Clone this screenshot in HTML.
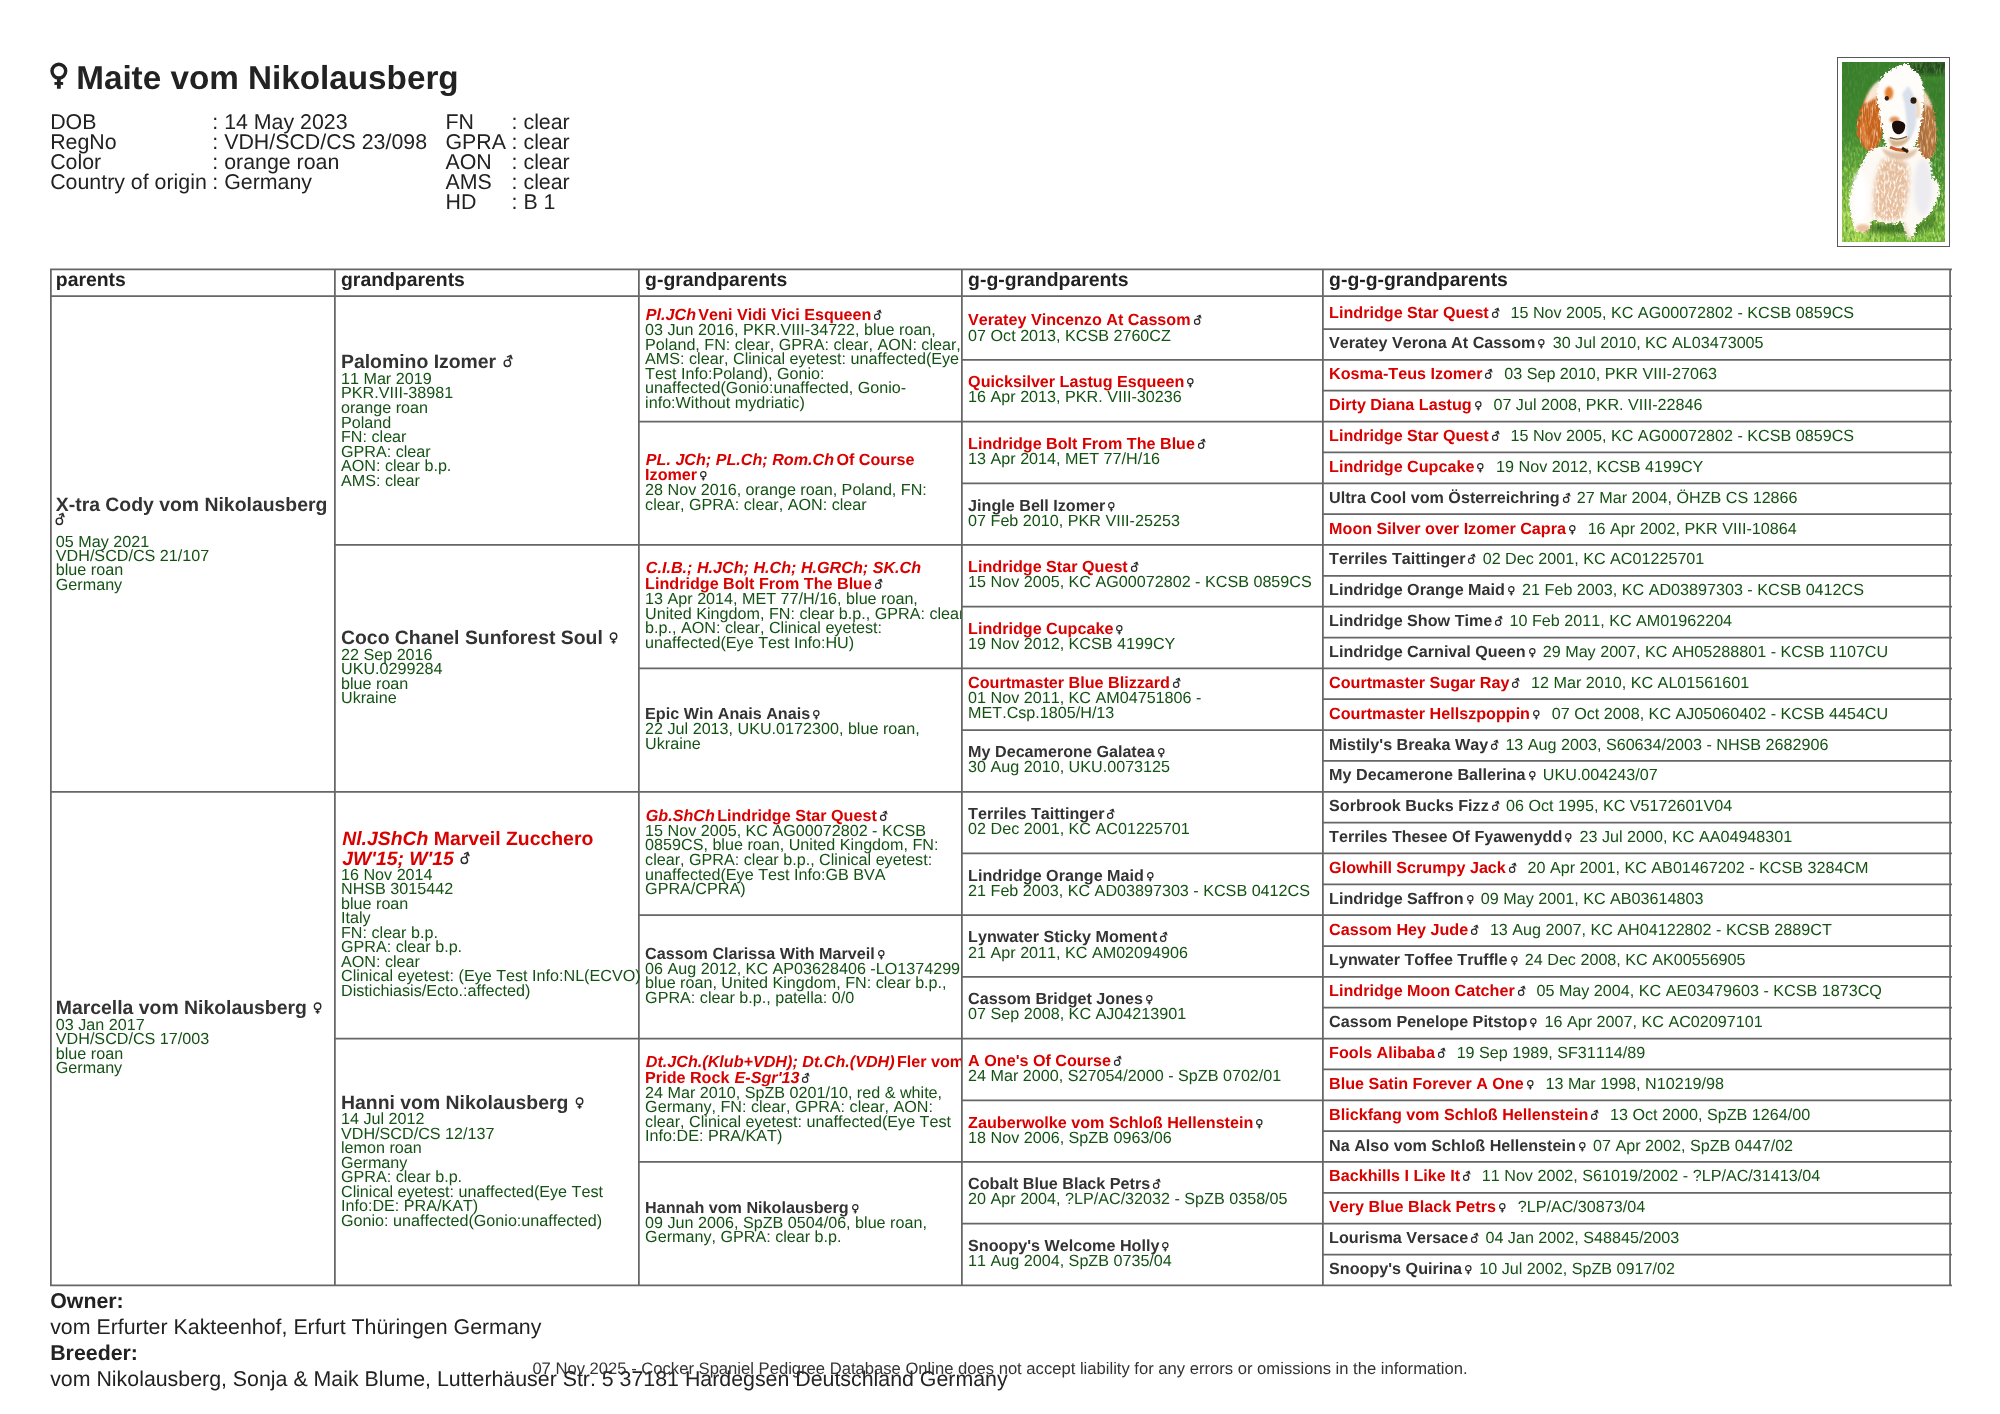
<!DOCTYPE html><html><head><meta charset="utf-8"><title>Pedigree</title><style>
html,body{margin:0;padding:0}
body{width:2000px;height:1414px;position:relative;background:#fff;overflow:hidden;font-family:"Liberation Sans",sans-serif;color:#222;font-kerning:none;text-rendering:geometricPrecision}
.l{position:absolute;line-height:0;white-space:nowrap;height:0}
.l b{font-weight:bold}
.l i{font-style:italic}
.h{position:absolute;height:1.75px;background:#6b6b6b}
.v{position:absolute;width:1.75px;background:#6b6b6b}
.s{display:inline-block;position:relative;width:0.79em;height:0;vertical-align:baseline}
.s svg{position:absolute;left:0;bottom:-0.2em;width:0.79em;height:0.9em;overflow:visible}
.ph{position:absolute;left:1837px;top:56.5px;width:110.9px;height:188.2px;border:1.2px solid #585858;box-sizing:content-box}
.ph svg{position:absolute;left:3.9px;top:4.4px;width:103px;height:180.2px}
#w{position:absolute;left:0;top:0;width:2000px;height:1414px;will-change:transform;background:#fff}

</style></head><body><div id="w">
<svg style="position:absolute;left:48px;top:60px;width:24px;height:32px" viewBox="0 0 24 32"><g fill="none" stroke="#222"><circle cx="10.85" cy="11.1" r="6.86" stroke-width="3.4"/><path d="M10.85 17.5V28.75" stroke-width="3.8"/><path d="M6.44 23.47H15.13" stroke-width="2.9"/></g></svg>

<div class="ph"><svg viewBox="0 0 103 180" preserveAspectRatio="none"><defs><linearGradient id="gg" x1="0" y1="0" x2="0.25" y2="1"><stop offset="0" stop-color="#357d2a"/><stop offset="0.45" stop-color="#3f8a2b"/><stop offset="0.75" stop-color="#4f9a2c"/><stop offset="1" stop-color="#74b932"/></linearGradient><radialGradient id="gl" cx="0.15" cy="0.9" r="0.5"><stop offset="0" stop-color="#b9e24e" stop-opacity="0.95"/><stop offset="1" stop-color="#8fd23a" stop-opacity="0"/></radialGradient><linearGradient id="mg" x1="0" y1="0" x2="0" y2="1"><stop offset="0.3" stop-color="#000"/><stop offset="0.75" stop-color="#fff"/></linearGradient><mask id="mk"><rect width="103" height="180" fill="url(#mg)"/></mask><filter id="nd" x="0" y="0" width="100%" height="100%"><feTurbulence type="fractalNoise" baseFrequency="0.5 0.16" numOctaves="3" seed="4"/><feColorMatrix values="0 0 0 0 0.08  0 0 0 0 0.25  0 0 0 0 0.05  2.6 0 0 0 -1.1"/></filter><filter id="nl" x="0" y="0" width="100%" height="100%"><feTurbulence type="fractalNoise" baseFrequency="0.55 0.2" numOctaves="3" seed="11"/><feColorMatrix values="0 0 0 0 0.66  0 0 0 0 0.88  0 0 0 0 0.3  2.6 0 0 0 -1.15"/></filter><filter id="soft" x="0" y="0" width="100%" height="100%"><feGaussianBlur stdDeviation="0.4"/></filter><filter id="b05"><feGaussianBlur stdDeviation="0.5"/></filter><filter id="b1"><feGaussianBlur stdDeviation="1"/></filter><filter id="b2"><feGaussianBlur stdDeviation="2"/></filter><filter id="fur" x="-15%" y="-15%" width="130%" height="130%"><feTurbulence type="fractalNoise" baseFrequency="0.35 0.5" numOctaves="2" seed="7" result="t"/><feDisplacementMap in="SourceGraphic" in2="t" scale="7" xChannelSelector="R" yChannelSelector="G"/><feGaussianBlur stdDeviation="0.5"/></filter><filter id="np" x="0" y="0" width="100%" height="100%"><feTurbulence type="fractalNoise" baseFrequency="0.5 0.22" numOctaves="2" seed="9"/><feColorMatrix values="0 0 0 0 1  0 0 0 0 0.98  0 0 0 0 0.94  3.4 0 0 0 -1.5"/><feGaussianBlur stdDeviation="0.35"/></filter><filter id="ne" x="0" y="0" width="100%" height="100%"><feTurbulence type="fractalNoise" baseFrequency="0.6 0.12" numOctaves="2" seed="21"/><feColorMatrix values="0 0 0 0 0.98  0 0 0 0 0.84  0 0 0 0 0.66  3.2 0 0 0 -1.5"/><feGaussianBlur stdDeviation="0.35"/></filter><clipPath id="cp"><rect width="103" height="180"/></clipPath><clipPath id="peach"><path d="M38 95C46 92 62 94 68 100C72 115 70 140 62 158C50 162 36 160 30 156C28 140 30 112 38 95Z"/></clipPath><clipPath id="ears"><path d="M34 26C26 30 20 42 16 56C13 68 16 80 24 88C30 90 36 86 39 78C41 64 40 44 40 30ZM76 26C84 28 90 40 93 54C96 70 95 88 90 96C84 98 78 94 76 84C74 66 74 44 76 26Z"/></clipPath></defs><g clip-path="url(#cp)"><g filter="url(#soft)"><rect width="103" height="180" fill="url(#gg)"/><ellipse cx="88" cy="5" rx="24" ry="8" fill="#23401f" opacity="0.8" filter="url(#b2)"/><rect x="82" y="20" width="21" height="130" fill="#2c6f25" opacity="0.4" filter="url(#b2)"/><rect width="103" height="180" fill="url(#gl)"/><rect width="103" height="180" filter="url(#nd)" opacity="0.9"/><g mask="url(#mk)"><rect width="103" height="180" filter="url(#nl)" opacity="0.85"/></g><ellipse cx="52" cy="166" rx="30" ry="6" fill="#1f4a14" opacity="0.55" filter="url(#b2)"/><ellipse cx="86" cy="158" rx="8" ry="10" fill="#1f4a14" opacity="0.4" filter="url(#b2)"/><!-- body --><g filter="url(#fur)"><path d="M27 88C20 100 12 118 8 134C6 146 10 160 14 168C18 172 26 170 28 164L30 157C40 162 52 162 60 160C62 166 64 174 68 175C72 175 74 170 74 164C80 160 86 154 90 148C96 140 99 128 97 122C94 118 91 116 90 114C89 104 88 94 86 86C70 82 40 82 27 88Z" fill="#fdf9f4"/></g><g filter="url(#b2)"><path d="M40 98C50 94 62 96 66 104C69 120 66 142 60 156C48 160 38 158 32 154C30 138 32 114 40 98Z" fill="#e6bb98" opacity="0.95"/><ellipse cx="81" cy="125" rx="9" ry="28" fill="#e6e6ee" opacity="0.75"/><ellipse cx="18" cy="135" rx="8" ry="26" fill="#ffffff"/></g><g clip-path="url(#peach)"><rect x="25" y="90" width="50" height="75" filter="url(#np)" opacity="0.9"/></g><ellipse cx="21" cy="166" rx="7" ry="4" fill="#e8b48c" opacity="0.8" filter="url(#b1)"/><path d="M62 160C64 168 66 176 70 176" stroke="#e9d2bc" stroke-width="3" fill="none" filter="url(#b1)" opacity="0.7"/><path d="M40 86C50 92 66 92 76 86C74 94 66 98 58 98C50 98 42 94 40 86Z" fill="#d9b595" opacity="0.8" filter="url(#b1)"/><!-- ears --><g filter="url(#fur)"><path d="M36 22C26 28 20 42 16 56C13 68 16 80 24 88C30 90 36 86 39 78C41 64 40 44 40 30Z" fill="#c8641f"/><path d="M76 24C84 28 90 40 93 54C96 70 95 88 90 96C84 98 78 94 76 84C74 66 74 44 76 24Z" fill="#b4733c"/></g><g filter="url(#b1)"><path d="M22 60C20 68 22 78 27 84" stroke="#e58a42" stroke-width="4" fill="none" opacity="0.8"/><path d="M79 50C79 62 80 78 82 90" stroke="#94623a" stroke-width="2.5" fill="none" opacity="0.7"/><path d="M38 18C30 22 25 32 22 42C28 40 34 36 38 30Z" fill="#fbeedd" opacity="0.95"/><path d="M76 24C84 28 88 36 90 46C86 44 80 42 77 40Z" fill="#f3e2c8" opacity="0.9"/></g><g clip-path="url(#ears)"><rect x="10" y="20" width="90" height="80" filter="url(#ne)" opacity="0.6"/></g><!-- head --><g filter="url(#fur)"><path d="M63 0C60 3 50 6 43 12C36 18 33 28 36 42C39 58 41 76 44 84C52 90 66 90 74 82C78 70 81 54 81 40C83 28 81 16 75 10C70 6 67 3 63 0Z" fill="#fffdfa"/></g><g filter="url(#b1)"><path d="M66 24C72 30 76 44 74 62C72 72 68 78 64 80C66 66 64 44 60 32Z" fill="#cdd6e6" opacity="0.75"/><ellipse cx="47" cy="31" rx="4.2" ry="6.5" fill="#e37a28" opacity="0.95"/><ellipse cx="52.5" cy="57.5" rx="5" ry="3" fill="#e08546" opacity="0.9"/><path d="M46 76C52 80 62 79 68 74C66 82 58 86 50 84Z" fill="#c8a070" opacity="0.8"/><path d="M73 36C76 40 77 48 76 56" stroke="#e8caa0" stroke-width="3" fill="none" opacity="0.8"/></g><g filter="url(#b05)"><ellipse cx="44.8" cy="36.3" rx="2.1" ry="2.3" fill="#3a1c14"/><ellipse cx="71.5" cy="38.5" rx="3" ry="3.2" fill="#2a1a12"/><path d="M50 63C50 59 54 58 58 59C62 60 64 62 63 66C62 71 58 73 55 72C52 71 50 67 50 63Z" fill="#1c1010"/><path d="M48 75.5C53 77.5 60 77 65 74.5" stroke="#6a4a30" stroke-width="1.2" fill="none"/><path d="M48 85C54 88 60 89 66 88" stroke="#c8602a" stroke-width="3.2" fill="none"/><path d="M60 86L66 90" stroke="#2a1a10" stroke-width="3" fill="none"/></g></g></g></svg></div>
<div class="l" style="left:76.20px;top:79.00px;font-size:33.25px;"><b>Maite vom Nikolausberg</b></div>
<div class="l" style="left:50.20px;top:122.00px;font-size:21.35px;">DOB</div>
<div class="l" style="left:50.20px;top:142.00px;font-size:21.35px;">RegNo</div>
<div class="l" style="left:50.20px;top:162.00px;font-size:21.35px;">Color</div>
<div class="l" style="left:50.20px;top:182.00px;font-size:21.35px;">Country of origin</div>
<div class="l" style="left:212.30px;top:122.00px;font-size:21.35px;">: 14 May 2023</div>
<div class="l" style="left:212.30px;top:142.00px;font-size:21.35px;">: VDH/SCD/CS 23/098</div>
<div class="l" style="left:212.30px;top:162.00px;font-size:21.35px;">: orange roan</div>
<div class="l" style="left:212.30px;top:182.00px;font-size:21.35px;">: Germany</div>
<div class="l" style="left:445.50px;top:122.00px;font-size:21.35px;">FN</div>
<div class="l" style="left:445.50px;top:142.00px;font-size:21.35px;">GPRA</div>
<div class="l" style="left:445.50px;top:162.00px;font-size:21.35px;">AON</div>
<div class="l" style="left:445.50px;top:182.00px;font-size:21.35px;">AMS</div>
<div class="l" style="left:445.50px;top:202.00px;font-size:21.35px;">HD</div>
<div class="l" style="left:511.60px;top:122.00px;font-size:21.35px;">: clear</div>
<div class="l" style="left:511.60px;top:142.00px;font-size:21.35px;">: clear</div>
<div class="l" style="left:511.60px;top:162.00px;font-size:21.35px;">: clear</div>
<div class="l" style="left:511.60px;top:182.00px;font-size:21.35px;">: clear</div>
<div class="l" style="left:511.60px;top:202.00px;font-size:21.35px;">: B 1</div>
<svg style="position:absolute;left:0;top:0" width="2000" height="1414" viewBox="0 0 2000 1414"><path d="M50.00 269.48H1951.95M50.00 296.20H1951.95M50.88 268.50V1286.22M334.88 268.50V1286.22M638.88 268.50V1286.22M961.88 268.50V1286.22M1322.88 268.50V1286.22M1950.08 268.50V1286.22M1322.00 329.00H1951.95M961.00 359.85H1951.95M1322.00 390.70H1951.95M638.00 421.55H1951.95M1322.00 452.40H1951.95M961.00 483.25H1951.95M1322.00 514.10H1951.95M334.00 544.95H1951.95M1322.00 575.80H1951.95M961.00 606.65H1951.95M1322.00 637.50H1951.95M638.00 668.35H1951.95M1322.00 699.20H1951.95M961.00 730.05H1951.95M1322.00 760.90H1951.95M50.00 791.75H1951.95M1322.00 822.60H1951.95M961.00 853.45H1951.95M1322.00 884.30H1951.95M638.00 915.15H1951.95M1322.00 946.00H1951.95M961.00 976.85H1951.95M1322.00 1007.70H1951.95M334.00 1038.55H1951.95M1322.00 1069.40H1951.95M961.00 1100.25H1951.95M1322.00 1131.10H1951.95M638.00 1161.95H1951.95M1322.00 1192.80H1951.95M961.00 1223.65H1951.95M1322.00 1254.50H1951.95M50.00 1285.35H1951.95" fill="none" stroke="#666" stroke-width="1.75"/></svg>
<div class="l" style="left:55.80px;top:280.00px;font-size:19.40px;"><b style="color:#222">parents</b></div>
<div class="l" style="left:341.00px;top:280.00px;font-size:19.40px;"><b style="color:#222">grandparents</b></div>
<div class="l" style="left:645.10px;top:280.00px;font-size:19.40px;"><b style="color:#222">g-grandparents</b></div>
<div class="l" style="left:968.10px;top:280.00px;font-size:19.40px;"><b style="color:#222">g-g-grandparents</b></div>
<div class="l" style="left:1329.10px;top:280.00px;font-size:19.40px;"><b style="color:#222">g-g-g-grandparents</b></div>
<div class="l" style="left:55.80px;top:505.00px;font-size:19.40px;"><b style="color:#333">X-tra Cody vom Nikolausberg</b></div>
<div class="l" style="left:52.40px;top:520.00px;font-size:19.40px;"><span style="color:#333"><span class="s"><svg viewBox="0 0 79 90"><g fill="none" stroke="#2a2a2a" stroke-width="7.4"><circle cx="38" cy="48" r="16.5"/><path d="M46.5 33L55 11"/><path d="M36 16.5L55.5 7.5L63 27" stroke-width="7"/></g></svg></span></span></div>
<div class="l" style="left:55.80px;top:542.00px;font-size:16.15px;"><span style="color:#145214">05 May 2021</span></div>
<div class="l" style="left:55.80px;top:556.00px;font-size:16.15px;"><span style="color:#145214">VDH/SCD/CS 21/107</span></div>
<div class="l" style="left:55.80px;top:570.00px;font-size:16.15px;"><span style="color:#145214">blue roan</span></div>
<div class="l" style="left:55.80px;top:585.00px;font-size:16.15px;"><span style="color:#145214">Germany</span></div>
<div class="l" style="left:55.80px;top:1008.00px;font-size:19.40px;"><b style="color:#333">Marcella vom Nikolausberg</b><span style="margin-left:3.6px;color:#333"><span class="s"><svg viewBox="0 0 79 90"><g fill="none" stroke="#2a2a2a" stroke-width="7.4"><circle cx="39" cy="32.5" r="16.6"/><path d="M39 49.5V71.5M29 60.5H49"/></g></svg></span></span></div>
<div class="l" style="left:55.80px;top:1025.00px;font-size:16.15px;"><span style="color:#145214">03 Jan 2017</span></div>
<div class="l" style="left:55.80px;top:1039.00px;font-size:16.15px;"><span style="color:#145214">VDH/SCD/CS 17/003</span></div>
<div class="l" style="left:55.80px;top:1054.00px;font-size:16.15px;"><span style="color:#145214">blue roan</span></div>
<div class="l" style="left:55.80px;top:1068.00px;font-size:16.15px;"><span style="color:#145214">Germany</span></div>
<div class="l" style="left:341.00px;top:362.00px;font-size:19.40px;"><b style="color:#333">Palomino Izomer</b><span style="margin-left:3.6px;color:#333"><span class="s"><svg viewBox="0 0 79 90"><g fill="none" stroke="#2a2a2a" stroke-width="7.4"><circle cx="38" cy="48" r="16.5"/><path d="M46.5 33L55 11"/><path d="M36 16.5L55.5 7.5L63 27" stroke-width="7"/></g></svg></span></span></div>
<div class="l" style="left:341.00px;top:379.00px;font-size:16.15px;"><span style="color:#145214">11 Mar 2019</span></div>
<div class="l" style="left:341.00px;top:393.00px;font-size:16.15px;"><span style="color:#145214">PKR.VIII-38981</span></div>
<div class="l" style="left:341.00px;top:408.00px;font-size:16.15px;"><span style="color:#145214">orange roan</span></div>
<div class="l" style="left:341.00px;top:423.00px;font-size:16.15px;"><span style="color:#145214">Poland</span></div>
<div class="l" style="left:341.00px;top:437.00px;font-size:16.15px;"><span style="color:#145214">FN: clear</span></div>
<div class="l" style="left:341.00px;top:452.00px;font-size:16.15px;"><span style="color:#145214">GPRA: clear</span></div>
<div class="l" style="left:341.00px;top:466.00px;font-size:16.15px;"><span style="color:#145214">AON: clear b.p.</span></div>
<div class="l" style="left:341.00px;top:481.00px;font-size:16.15px;"><span style="color:#145214">AMS: clear</span></div>
<div class="l" style="left:341.00px;top:638.00px;font-size:19.40px;"><b style="color:#333">Coco Chanel Sunforest Soul</b><span style="margin-left:3.6px;color:#333"><span class="s"><svg viewBox="0 0 79 90"><g fill="none" stroke="#2a2a2a" stroke-width="7.4"><circle cx="39" cy="32.5" r="16.6"/><path d="M39 49.5V71.5M29 60.5H49"/></g></svg></span></span></div>
<div class="l" style="left:341.00px;top:655.00px;font-size:16.15px;"><span style="color:#145214">22 Sep 2016</span></div>
<div class="l" style="left:341.00px;top:669.00px;font-size:16.15px;"><span style="color:#145214">UKU.0299284</span></div>
<div class="l" style="left:341.00px;top:684.00px;font-size:16.15px;"><span style="color:#145214">blue roan</span></div>
<div class="l" style="left:341.00px;top:698.00px;font-size:16.15px;"><span style="color:#145214">Ukraine</span></div>
<div class="l" style="left:342.20px;top:839.00px;font-size:19.40px;"><b style="color:#d90000"><i>Nl.JShCh</i> Marveil Zucchero</b></div>
<div class="l" style="left:342.20px;top:859.00px;font-size:19.40px;"><b style="color:#d90000"><i>JW'15; W'15</i></b><span style="margin-left:3.6px;color:#333"><span class="s"><svg viewBox="0 0 79 90"><g fill="none" stroke="#2a2a2a" stroke-width="7.4"><circle cx="38" cy="48" r="16.5"/><path d="M46.5 33L55 11"/><path d="M36 16.5L55.5 7.5L63 27" stroke-width="7"/></g></svg></span></span></div>
<div class="l" style="left:341.00px;top:875.00px;font-size:16.15px;"><span style="color:#145214">16 Nov 2014</span></div>
<div class="l" style="left:341.00px;top:889.00px;font-size:16.15px;"><span style="color:#145214">NHSB 3015442</span></div>
<div class="l" style="left:341.00px;top:904.00px;font-size:16.15px;"><span style="color:#145214">blue roan</span></div>
<div class="l" style="left:341.00px;top:918.00px;font-size:16.15px;"><span style="color:#145214">Italy</span></div>
<div class="l" style="left:341.00px;top:933.00px;font-size:16.15px;"><span style="color:#145214">FN: clear b.p.</span></div>
<div class="l" style="left:341.00px;top:947.00px;font-size:16.15px;"><span style="color:#145214">GPRA: clear b.p.</span></div>
<div class="l" style="left:341.00px;top:962.00px;font-size:16.15px;"><span style="color:#145214">AON: clear</span></div>
<div class="l" style="left:341.00px;top:976.00px;font-size:16.15px;"><span style="color:#145214">Clinical eyetest: (Eye Test Info:NL(ECVO)</span></div>
<div class="l" style="left:341.00px;top:991.00px;font-size:16.15px;"><span style="color:#145214">Distichiasis/Ecto.:affected)</span></div>
<div class="l" style="left:341.00px;top:1103.00px;font-size:19.40px;"><b style="color:#333">Hanni vom Nikolausberg</b><span style="margin-left:3.6px;color:#333"><span class="s"><svg viewBox="0 0 79 90"><g fill="none" stroke="#2a2a2a" stroke-width="7.4"><circle cx="39" cy="32.5" r="16.6"/><path d="M39 49.5V71.5M29 60.5H49"/></g></svg></span></span></div>
<div class="l" style="left:341.00px;top:1119.00px;font-size:16.15px;"><span style="color:#145214">14 Jul 2012</span></div>
<div class="l" style="left:341.00px;top:1134.00px;font-size:16.15px;"><span style="color:#145214">VDH/SCD/CS 12/137</span></div>
<div class="l" style="left:341.00px;top:1148.00px;font-size:16.15px;"><span style="color:#145214">lemon roan</span></div>
<div class="l" style="left:341.00px;top:1163.00px;font-size:16.15px;"><span style="color:#145214">Germany</span></div>
<div class="l" style="left:341.00px;top:1177.00px;font-size:16.15px;"><span style="color:#145214">GPRA: clear b.p.</span></div>
<div class="l" style="left:341.00px;top:1192.00px;font-size:16.15px;"><span style="color:#145214">Clinical eyetest: unaffected(Eye Test</span></div>
<div class="l" style="left:341.00px;top:1206.00px;font-size:16.15px;"><span style="color:#145214">Info:DE: PRA/KAT)</span></div>
<div class="l" style="left:341.00px;top:1221.00px;font-size:16.15px;"><span style="color:#145214">Gonio: unaffected(Gonio:unaffected)</span></div>
<div class="l" style="left:645.10px;top:315.00px;font-size:16.15px;width:316.20px;clip-path:inset(-30px 0 -30px 0);"><b style="color:#d90000"><i style="position:relative;left:0.7px">Pl.JCh</i><span style="margin-left:-1.5px"> Veni Vidi Vici Esqueen</span></b><span style="color:#333"><span class="s"><svg viewBox="0 0 79 90"><g fill="none" stroke="#2a2a2a" stroke-width="7.4"><circle cx="38" cy="48" r="16.5"/><path d="M46.5 33L55 11"/><path d="M36 16.5L55.5 7.5L63 27" stroke-width="7"/></g></svg></span></span></div>
<div class="l" style="left:645.10px;top:330.00px;font-size:16.15px;width:316.20px;clip-path:inset(-30px 0 -30px 0);"><span style="color:#145214">03 Jun 2016, PKR.VIII-34722, blue roan,</span></div>
<div class="l" style="left:645.10px;top:345.00px;font-size:16.15px;width:316.20px;clip-path:inset(-30px 0 -30px 0);"><span style="color:#145214">Poland, FN: clear, GPRA: clear, AON: clear,</span></div>
<div class="l" style="left:645.10px;top:359.00px;font-size:16.15px;width:316.20px;clip-path:inset(-30px 0 -30px 0);"><span style="color:#145214">AMS: clear, Clinical eyetest: unaffected(Eye</span></div>
<div class="l" style="left:645.10px;top:374.00px;font-size:16.15px;width:316.20px;clip-path:inset(-30px 0 -30px 0);"><span style="color:#145214">Test Info:Poland), Gonio:</span></div>
<div class="l" style="left:645.10px;top:388.00px;font-size:16.15px;width:316.20px;clip-path:inset(-30px 0 -30px 0);"><span style="color:#145214">unaffected(Gonio:unaffected, Gonio-</span></div>
<div class="l" style="left:645.10px;top:403.00px;font-size:16.15px;width:316.20px;clip-path:inset(-30px 0 -30px 0);"><span style="color:#145214">info:Without mydriatic)</span></div>
<div class="l" style="left:645.10px;top:460.00px;font-size:16.15px;width:316.20px;clip-path:inset(-30px 0 -30px 0);"><b style="color:#d90000"><i style="position:relative;left:0.7px">PL. JCh; PL.Ch; Rom.Ch</i><span style="margin-left:-1.5px"> Of Course</span></b></div>
<div class="l" style="left:645.10px;top:475.00px;font-size:16.15px;width:316.20px;clip-path:inset(-30px 0 -30px 0);"><b style="color:#d90000">Izomer</b><span style="color:#333"><span class="s"><svg viewBox="0 0 79 90"><g fill="none" stroke="#2a2a2a" stroke-width="7.4"><circle cx="39" cy="32.5" r="16.6"/><path d="M39 49.5V71.5M29 60.5H49"/></g></svg></span></span></div>
<div class="l" style="left:645.10px;top:490.00px;font-size:16.15px;width:316.20px;clip-path:inset(-30px 0 -30px 0);"><span style="color:#145214">28 Nov 2016, orange roan, Poland, FN:</span></div>
<div class="l" style="left:645.10px;top:505.00px;font-size:16.15px;width:316.20px;clip-path:inset(-30px 0 -30px 0);"><span style="color:#145214">clear, GPRA: clear, AON: clear</span></div>
<div class="l" style="left:645.10px;top:568.00px;font-size:16.15px;width:316.20px;clip-path:inset(-30px 0 -30px 0);"><b style="color:#d90000"><i style="position:relative;left:0.7px">C.I.B.; H.JCh; H.Ch; H.GRCh; SK.Ch</i></b></div>
<div class="l" style="left:645.10px;top:584.00px;font-size:16.15px;width:316.20px;clip-path:inset(-30px 0 -30px 0);"><b style="color:#d90000">Lindridge Bolt From The Blue</b><span style="color:#333"><span class="s"><svg viewBox="0 0 79 90"><g fill="none" stroke="#2a2a2a" stroke-width="7.4"><circle cx="38" cy="48" r="16.5"/><path d="M46.5 33L55 11"/><path d="M36 16.5L55.5 7.5L63 27" stroke-width="7"/></g></svg></span></span></div>
<div class="l" style="left:645.10px;top:599.00px;font-size:16.15px;width:316.20px;clip-path:inset(-30px 0 -30px 0);"><span style="color:#145214">13 Apr 2014, MET 77/H/16, blue roan,</span></div>
<div class="l" style="left:645.10px;top:614.00px;font-size:16.15px;width:316.20px;clip-path:inset(-30px 0 -30px 0);"><span style="color:#145214">United Kingdom, FN: clear b.p., GPRA: clear</span></div>
<div class="l" style="left:645.10px;top:628.00px;font-size:16.15px;width:316.20px;clip-path:inset(-30px 0 -30px 0);"><span style="color:#145214">b.p., AON: clear, Clinical eyetest:</span></div>
<div class="l" style="left:645.10px;top:643.00px;font-size:16.15px;width:316.20px;clip-path:inset(-30px 0 -30px 0);"><span style="color:#145214">unaffected(Eye Test Info:HU)</span></div>
<div class="l" style="left:645.10px;top:714.00px;font-size:16.15px;width:316.20px;clip-path:inset(-30px 0 -30px 0);"><b style="color:#333">Epic Win Anais Anais</b><span style="color:#333"><span class="s"><svg viewBox="0 0 79 90"><g fill="none" stroke="#2a2a2a" stroke-width="7.4"><circle cx="39" cy="32.5" r="16.6"/><path d="M39 49.5V71.5M29 60.5H49"/></g></svg></span></span></div>
<div class="l" style="left:645.10px;top:729.00px;font-size:16.15px;width:316.20px;clip-path:inset(-30px 0 -30px 0);"><span style="color:#145214">22 Jul 2013, UKU.0172300, blue roan,</span></div>
<div class="l" style="left:645.10px;top:744.00px;font-size:16.15px;width:316.20px;clip-path:inset(-30px 0 -30px 0);"><span style="color:#145214">Ukraine</span></div>
<div class="l" style="left:645.10px;top:816.00px;font-size:16.15px;width:316.20px;clip-path:inset(-30px 0 -30px 0);"><b style="color:#d90000"><i style="position:relative;left:0.7px">Gb.ShCh</i><span style="margin-left:-1.5px"> Lindridge Star Quest</span></b><span style="color:#333"><span class="s"><svg viewBox="0 0 79 90"><g fill="none" stroke="#2a2a2a" stroke-width="7.4"><circle cx="38" cy="48" r="16.5"/><path d="M46.5 33L55 11"/><path d="M36 16.5L55.5 7.5L63 27" stroke-width="7"/></g></svg></span></span></div>
<div class="l" style="left:645.10px;top:831.00px;font-size:16.15px;width:316.20px;clip-path:inset(-30px 0 -30px 0);"><span style="color:#145214">15 Nov 2005, KC AG00072802 - KCSB</span></div>
<div class="l" style="left:645.10px;top:845.00px;font-size:16.15px;width:316.20px;clip-path:inset(-30px 0 -30px 0);"><span style="color:#145214">0859CS, blue roan, United Kingdom, FN:</span></div>
<div class="l" style="left:645.10px;top:860.00px;font-size:16.15px;width:316.20px;clip-path:inset(-30px 0 -30px 0);"><span style="color:#145214">clear, GPRA: clear b.p., Clinical eyetest:</span></div>
<div class="l" style="left:645.10px;top:875.00px;font-size:16.15px;width:316.20px;clip-path:inset(-30px 0 -30px 0);"><span style="color:#145214">unaffected(Eye Test Info:GB BVA</span></div>
<div class="l" style="left:645.10px;top:889.00px;font-size:16.15px;width:316.20px;clip-path:inset(-30px 0 -30px 0);"><span style="color:#145214">GPRA/CPRA)</span></div>
<div class="l" style="left:645.10px;top:954.00px;font-size:16.15px;width:316.20px;clip-path:inset(-30px 0 -30px 0);"><b style="color:#333">Cassom Clarissa With Marveil</b><span style="color:#333"><span class="s"><svg viewBox="0 0 79 90"><g fill="none" stroke="#2a2a2a" stroke-width="7.4"><circle cx="39" cy="32.5" r="16.6"/><path d="M39 49.5V71.5M29 60.5H49"/></g></svg></span></span></div>
<div class="l" style="left:645.10px;top:969.00px;font-size:16.15px;width:316.20px;clip-path:inset(-30px 0 -30px 0);"><span style="color:#145214">06 Aug 2012, KC AP03628406 -LO1374299,</span></div>
<div class="l" style="left:645.10px;top:983.00px;font-size:16.15px;width:316.20px;clip-path:inset(-30px 0 -30px 0);"><span style="color:#145214">blue roan, United Kingdom, FN: clear b.p.,</span></div>
<div class="l" style="left:645.10px;top:998.00px;font-size:16.15px;width:316.20px;clip-path:inset(-30px 0 -30px 0);"><span style="color:#145214">GPRA: clear b.p., patella: 0/0</span></div>
<div class="l" style="left:645.10px;top:1062.00px;font-size:16.15px;width:316.20px;clip-path:inset(-30px 0 -30px 0);"><b style="color:#d90000"><i style="position:relative;left:0.7px">Dt.JCh.(Klub+VDH); Dt.Ch.(VDH)</i><span style="margin-left:-1.5px"> Fler vom</span></b></div>
<div class="l" style="left:645.10px;top:1078.00px;font-size:16.15px;width:316.20px;clip-path:inset(-30px 0 -30px 0);"><b style="color:#d90000">Pride Rock <i style="position:relative;left:0.7px">E-Sgr'13</i></b><span style="color:#333"><span class="s"><svg viewBox="0 0 79 90"><g fill="none" stroke="#2a2a2a" stroke-width="7.4"><circle cx="38" cy="48" r="16.5"/><path d="M46.5 33L55 11"/><path d="M36 16.5L55.5 7.5L63 27" stroke-width="7"/></g></svg></span></span></div>
<div class="l" style="left:645.10px;top:1093.00px;font-size:16.15px;width:316.20px;clip-path:inset(-30px 0 -30px 0);"><span style="color:#145214">24 Mar 2010, SpZB 0201/10, red &amp; white,</span></div>
<div class="l" style="left:645.10px;top:1107.00px;font-size:16.15px;width:316.20px;clip-path:inset(-30px 0 -30px 0);"><span style="color:#145214">Germany, FN: clear, GPRA: clear, AON:</span></div>
<div class="l" style="left:645.10px;top:1122.00px;font-size:16.15px;width:316.20px;clip-path:inset(-30px 0 -30px 0);"><span style="color:#145214">clear, Clinical eyetest: unaffected(Eye Test</span></div>
<div class="l" style="left:645.10px;top:1136.00px;font-size:16.15px;width:316.20px;clip-path:inset(-30px 0 -30px 0);"><span style="color:#145214">Info:DE: PRA/KAT)</span></div>
<div class="l" style="left:645.10px;top:1208.00px;font-size:16.15px;width:316.20px;clip-path:inset(-30px 0 -30px 0);"><b style="color:#333">Hannah vom Nikolausberg</b><span style="color:#333"><span class="s"><svg viewBox="0 0 79 90"><g fill="none" stroke="#2a2a2a" stroke-width="7.4"><circle cx="39" cy="32.5" r="16.6"/><path d="M39 49.5V71.5M29 60.5H49"/></g></svg></span></span></div>
<div class="l" style="left:645.10px;top:1223.00px;font-size:16.15px;width:316.20px;clip-path:inset(-30px 0 -30px 0);"><span style="color:#145214">09 Jun 2006, SpZB 0504/06, blue roan,</span></div>
<div class="l" style="left:645.10px;top:1237.00px;font-size:16.15px;width:316.20px;clip-path:inset(-30px 0 -30px 0);"><span style="color:#145214">Germany, GPRA: clear b.p.</span></div>
<div class="l" style="left:968.10px;top:320.00px;font-size:16.15px;"><b style="color:#d90000">Veratey Vincenzo At Cassom</b><span style="color:#333"><span class="s"><svg viewBox="0 0 79 90"><g fill="none" stroke="#2a2a2a" stroke-width="7.4"><circle cx="38" cy="48" r="16.5"/><path d="M46.5 33L55 11"/><path d="M36 16.5L55.5 7.5L63 27" stroke-width="7"/></g></svg></span></span></div>
<div class="l" style="left:968.10px;top:336.00px;font-size:16.15px;"><span style="color:#145214">07 Oct 2013, KCSB 2760CZ</span></div>
<div class="l" style="left:968.10px;top:382.00px;font-size:16.15px;"><b style="color:#d90000">Quicksilver Lastug Esqueen</b><span style="color:#333"><span class="s"><svg viewBox="0 0 79 90"><g fill="none" stroke="#2a2a2a" stroke-width="7.4"><circle cx="39" cy="32.5" r="16.6"/><path d="M39 49.5V71.5M29 60.5H49"/></g></svg></span></span></div>
<div class="l" style="left:968.10px;top:397.00px;font-size:16.15px;"><span style="color:#145214">16 Apr 2013, PKR. VIII-30236</span></div>
<div class="l" style="left:968.10px;top:444.00px;font-size:16.15px;"><b style="color:#d90000">Lindridge Bolt From The Blue</b><span style="color:#333"><span class="s"><svg viewBox="0 0 79 90"><g fill="none" stroke="#2a2a2a" stroke-width="7.4"><circle cx="38" cy="48" r="16.5"/><path d="M46.5 33L55 11"/><path d="M36 16.5L55.5 7.5L63 27" stroke-width="7"/></g></svg></span></span></div>
<div class="l" style="left:968.10px;top:459.00px;font-size:16.15px;"><span style="color:#145214">13 Apr 2014, MET 77/H/16</span></div>
<div class="l" style="left:968.10px;top:506.00px;font-size:16.15px;"><b style="color:#333">Jingle Bell Izomer</b><span style="color:#333"><span class="s"><svg viewBox="0 0 79 90"><g fill="none" stroke="#2a2a2a" stroke-width="7.4"><circle cx="39" cy="32.5" r="16.6"/><path d="M39 49.5V71.5M29 60.5H49"/></g></svg></span></span></div>
<div class="l" style="left:968.10px;top:521.00px;font-size:16.15px;"><span style="color:#145214">07 Feb 2010, PKR VIII-25253</span></div>
<div class="l" style="left:968.10px;top:567.00px;font-size:16.15px;"><b style="color:#d90000">Lindridge Star Quest</b><span style="color:#333"><span class="s"><svg viewBox="0 0 79 90"><g fill="none" stroke="#2a2a2a" stroke-width="7.4"><circle cx="38" cy="48" r="16.5"/><path d="M46.5 33L55 11"/><path d="M36 16.5L55.5 7.5L63 27" stroke-width="7"/></g></svg></span></span></div>
<div class="l" style="left:968.10px;top:582.00px;font-size:16.15px;"><span style="color:#145214">15 Nov 2005, KC AG00072802 - KCSB 0859CS</span></div>
<div class="l" style="left:968.10px;top:629.00px;font-size:16.15px;"><b style="color:#d90000">Lindridge Cupcake</b><span style="color:#333"><span class="s"><svg viewBox="0 0 79 90"><g fill="none" stroke="#2a2a2a" stroke-width="7.4"><circle cx="39" cy="32.5" r="16.6"/><path d="M39 49.5V71.5M29 60.5H49"/></g></svg></span></span></div>
<div class="l" style="left:968.10px;top:644.00px;font-size:16.15px;"><span style="color:#145214">19 Nov 2012, KCSB 4199CY</span></div>
<div class="l" style="left:968.10px;top:683.00px;font-size:16.15px;"><b style="color:#d90000">Courtmaster Blue Blizzard</b><span style="color:#333"><span class="s"><svg viewBox="0 0 79 90"><g fill="none" stroke="#2a2a2a" stroke-width="7.4"><circle cx="38" cy="48" r="16.5"/><path d="M46.5 33L55 11"/><path d="M36 16.5L55.5 7.5L63 27" stroke-width="7"/></g></svg></span></span></div>
<div class="l" style="left:968.10px;top:698.00px;font-size:16.15px;"><span style="color:#145214">01 Nov 2011, KC AM04751806 -</span></div>
<div class="l" style="left:968.10px;top:713.00px;font-size:16.15px;"><span style="color:#145214">MET.Csp.1805/H/13</span></div>
<div class="l" style="left:968.10px;top:752.00px;font-size:16.15px;"><b style="color:#333">My Decamerone Galatea</b><span style="color:#333"><span class="s"><svg viewBox="0 0 79 90"><g fill="none" stroke="#2a2a2a" stroke-width="7.4"><circle cx="39" cy="32.5" r="16.6"/><path d="M39 49.5V71.5M29 60.5H49"/></g></svg></span></span></div>
<div class="l" style="left:968.10px;top:767.00px;font-size:16.15px;"><span style="color:#145214">30 Aug 2010, UKU.0073125</span></div>
<div class="l" style="left:968.10px;top:814.00px;font-size:16.15px;"><b style="color:#333">Terriles Taittinger</b><span style="color:#333"><span class="s"><svg viewBox="0 0 79 90"><g fill="none" stroke="#2a2a2a" stroke-width="7.4"><circle cx="38" cy="48" r="16.5"/><path d="M46.5 33L55 11"/><path d="M36 16.5L55.5 7.5L63 27" stroke-width="7"/></g></svg></span></span></div>
<div class="l" style="left:968.10px;top:829.00px;font-size:16.15px;"><span style="color:#145214">02 Dec 2001, KC AC01225701</span></div>
<div class="l" style="left:968.10px;top:876.00px;font-size:16.15px;"><b style="color:#333">Lindridge Orange Maid</b><span style="color:#333"><span class="s"><svg viewBox="0 0 79 90"><g fill="none" stroke="#2a2a2a" stroke-width="7.4"><circle cx="39" cy="32.5" r="16.6"/><path d="M39 49.5V71.5M29 60.5H49"/></g></svg></span></span></div>
<div class="l" style="left:968.10px;top:891.00px;font-size:16.15px;"><span style="color:#145214">21 Feb 2003, KC AD03897303 - KCSB 0412CS</span></div>
<div class="l" style="left:968.10px;top:937.00px;font-size:16.15px;"><b style="color:#333">Lynwater Sticky Moment</b><span style="color:#333"><span class="s"><svg viewBox="0 0 79 90"><g fill="none" stroke="#2a2a2a" stroke-width="7.4"><circle cx="38" cy="48" r="16.5"/><path d="M46.5 33L55 11"/><path d="M36 16.5L55.5 7.5L63 27" stroke-width="7"/></g></svg></span></span></div>
<div class="l" style="left:968.10px;top:953.00px;font-size:16.15px;"><span style="color:#145214">21 Apr 2011, KC AM02094906</span></div>
<div class="l" style="left:968.10px;top:999.00px;font-size:16.15px;"><b style="color:#333">Cassom Bridget Jones</b><span style="color:#333"><span class="s"><svg viewBox="0 0 79 90"><g fill="none" stroke="#2a2a2a" stroke-width="7.4"><circle cx="39" cy="32.5" r="16.6"/><path d="M39 49.5V71.5M29 60.5H49"/></g></svg></span></span></div>
<div class="l" style="left:968.10px;top:1014.00px;font-size:16.15px;"><span style="color:#145214">07 Sep 2008, KC AJ04213901</span></div>
<div class="l" style="left:968.10px;top:1061.00px;font-size:16.15px;"><b style="color:#d90000">A One's Of Course</b><span style="color:#333"><span class="s"><svg viewBox="0 0 79 90"><g fill="none" stroke="#2a2a2a" stroke-width="7.4"><circle cx="38" cy="48" r="16.5"/><path d="M46.5 33L55 11"/><path d="M36 16.5L55.5 7.5L63 27" stroke-width="7"/></g></svg></span></span></div>
<div class="l" style="left:968.10px;top:1076.00px;font-size:16.15px;"><span style="color:#145214">24 Mar 2000, S27054/2000 - SpZB 0702/01</span></div>
<div class="l" style="left:968.10px;top:1123.00px;font-size:16.15px;"><b style="color:#d90000">Zauberwolke vom Schloß Hellenstein</b><span style="color:#333"><span class="s"><svg viewBox="0 0 79 90"><g fill="none" stroke="#2a2a2a" stroke-width="7.4"><circle cx="39" cy="32.5" r="16.6"/><path d="M39 49.5V71.5M29 60.5H49"/></g></svg></span></span></div>
<div class="l" style="left:968.10px;top:1138.00px;font-size:16.15px;"><span style="color:#145214">18 Nov 2006, SpZB 0963/06</span></div>
<div class="l" style="left:968.10px;top:1184.00px;font-size:16.15px;"><b style="color:#333">Cobalt Blue Black Petrs</b><span style="color:#333"><span class="s"><svg viewBox="0 0 79 90"><g fill="none" stroke="#2a2a2a" stroke-width="7.4"><circle cx="38" cy="48" r="16.5"/><path d="M46.5 33L55 11"/><path d="M36 16.5L55.5 7.5L63 27" stroke-width="7"/></g></svg></span></span></div>
<div class="l" style="left:968.10px;top:1199.00px;font-size:16.15px;"><span style="color:#145214">20 Apr 2004, ?LP/AC/32032 - SpZB 0358/05</span></div>
<div class="l" style="left:968.10px;top:1246.00px;font-size:16.15px;"><b style="color:#333">Snoopy's Welcome Holly</b><span style="color:#333"><span class="s"><svg viewBox="0 0 79 90"><g fill="none" stroke="#2a2a2a" stroke-width="7.4"><circle cx="39" cy="32.5" r="16.6"/><path d="M39 49.5V71.5M29 60.5H49"/></g></svg></span></span></div>
<div class="l" style="left:968.10px;top:1261.00px;font-size:16.15px;"><span style="color:#145214">11 Aug 2004, SpZB 0735/04</span></div>
<div class="l" style="left:1329.10px;top:313.00px;font-size:16.15px;"><b style="color:#d90000">Lindridge Star Quest</b><span style="color:#333"><span class="s"><svg viewBox="0 0 79 90"><g fill="none" stroke="#2a2a2a" stroke-width="7.4"><circle cx="38" cy="48" r="16.5"/><path d="M46.5 33L55 11"/><path d="M36 16.5L55.5 7.5L63 27" stroke-width="7"/></g></svg></span></span><span style="color:#145214;white-space:pre">  15 Nov 2005, KC AG00072802 - KCSB 0859CS</span></div>
<div class="l" style="left:1329.10px;top:343.00px;font-size:16.15px;"><b style="color:#333">Veratey Verona At Cassom</b><span style="color:#333"><span class="s"><svg viewBox="0 0 79 90"><g fill="none" stroke="#2a2a2a" stroke-width="7.4"><circle cx="39" cy="32.5" r="16.6"/><path d="M39 49.5V71.5M29 60.5H49"/></g></svg></span></span><span style="color:#145214;white-space:pre"> 30 Jul 2010, KC AL03473005</span></div>
<div class="l" style="left:1329.10px;top:374.00px;font-size:16.15px;"><b style="color:#d90000">Kosma-Teus Izomer</b><span style="color:#333"><span class="s"><svg viewBox="0 0 79 90"><g fill="none" stroke="#2a2a2a" stroke-width="7.4"><circle cx="38" cy="48" r="16.5"/><path d="M46.5 33L55 11"/><path d="M36 16.5L55.5 7.5L63 27" stroke-width="7"/></g></svg></span></span><span style="color:#145214;white-space:pre">  03 Sep 2010, PKR VIII-27063</span></div>
<div class="l" style="left:1329.10px;top:405.00px;font-size:16.15px;"><b style="color:#d90000">Dirty Diana Lastug</b><span style="color:#333"><span class="s"><svg viewBox="0 0 79 90"><g fill="none" stroke="#2a2a2a" stroke-width="7.4"><circle cx="39" cy="32.5" r="16.6"/><path d="M39 49.5V71.5M29 60.5H49"/></g></svg></span></span><span style="color:#145214;white-space:pre">  07 Jul 2008, PKR. VIII-22846</span></div>
<div class="l" style="left:1329.10px;top:436.00px;font-size:16.15px;"><b style="color:#d90000">Lindridge Star Quest</b><span style="color:#333"><span class="s"><svg viewBox="0 0 79 90"><g fill="none" stroke="#2a2a2a" stroke-width="7.4"><circle cx="38" cy="48" r="16.5"/><path d="M46.5 33L55 11"/><path d="M36 16.5L55.5 7.5L63 27" stroke-width="7"/></g></svg></span></span><span style="color:#145214;white-space:pre">  15 Nov 2005, KC AG00072802 - KCSB 0859CS</span></div>
<div class="l" style="left:1329.10px;top:467.00px;font-size:16.15px;"><b style="color:#d90000">Lindridge Cupcake</b><span style="color:#333"><span class="s"><svg viewBox="0 0 79 90"><g fill="none" stroke="#2a2a2a" stroke-width="7.4"><circle cx="39" cy="32.5" r="16.6"/><path d="M39 49.5V71.5M29 60.5H49"/></g></svg></span></span><span style="color:#145214;white-space:pre">  19 Nov 2012, KCSB 4199CY</span></div>
<div class="l" style="left:1329.10px;top:498.00px;font-size:16.15px;"><b style="color:#333">Ultra Cool vom Österreichring</b><span style="color:#333"><span class="s"><svg viewBox="0 0 79 90"><g fill="none" stroke="#2a2a2a" stroke-width="7.4"><circle cx="38" cy="48" r="16.5"/><path d="M46.5 33L55 11"/><path d="M36 16.5L55.5 7.5L63 27" stroke-width="7"/></g></svg></span></span><span style="color:#145214;white-space:pre"> 27 Mar 2004, ÖHZB CS 12866</span></div>
<div class="l" style="left:1329.10px;top:529.00px;font-size:16.15px;"><b style="color:#d90000">Moon Silver over Izomer Capra</b><span style="color:#333"><span class="s"><svg viewBox="0 0 79 90"><g fill="none" stroke="#2a2a2a" stroke-width="7.4"><circle cx="39" cy="32.5" r="16.6"/><path d="M39 49.5V71.5M29 60.5H49"/></g></svg></span></span><span style="color:#145214;white-space:pre">  16 Apr 2002, PKR VIII-10864</span></div>
<div class="l" style="left:1329.10px;top:559.00px;font-size:16.15px;"><b style="color:#333">Terriles Taittinger</b><span style="color:#333"><span class="s"><svg viewBox="0 0 79 90"><g fill="none" stroke="#2a2a2a" stroke-width="7.4"><circle cx="38" cy="48" r="16.5"/><path d="M46.5 33L55 11"/><path d="M36 16.5L55.5 7.5L63 27" stroke-width="7"/></g></svg></span></span><span style="color:#145214;white-space:pre"> 02 Dec 2001, KC AC01225701</span></div>
<div class="l" style="left:1329.10px;top:590.00px;font-size:16.15px;"><b style="color:#333">Lindridge Orange Maid</b><span style="color:#333"><span class="s"><svg viewBox="0 0 79 90"><g fill="none" stroke="#2a2a2a" stroke-width="7.4"><circle cx="39" cy="32.5" r="16.6"/><path d="M39 49.5V71.5M29 60.5H49"/></g></svg></span></span><span style="color:#145214;white-space:pre"> 21 Feb 2003, KC AD03897303 - KCSB 0412CS</span></div>
<div class="l" style="left:1329.10px;top:621.00px;font-size:16.15px;"><b style="color:#333">Lindridge Show Time</b><span style="color:#333"><span class="s"><svg viewBox="0 0 79 90"><g fill="none" stroke="#2a2a2a" stroke-width="7.4"><circle cx="38" cy="48" r="16.5"/><path d="M46.5 33L55 11"/><path d="M36 16.5L55.5 7.5L63 27" stroke-width="7"/></g></svg></span></span><span style="color:#145214;white-space:pre"> 10 Feb 2011, KC AM01962204</span></div>
<div class="l" style="left:1329.10px;top:652.00px;font-size:16.15px;"><b style="color:#333">Lindridge Carnival Queen</b><span style="color:#333"><span class="s"><svg viewBox="0 0 79 90"><g fill="none" stroke="#2a2a2a" stroke-width="7.4"><circle cx="39" cy="32.5" r="16.6"/><path d="M39 49.5V71.5M29 60.5H49"/></g></svg></span></span><span style="color:#145214;white-space:pre"> 29 May 2007, KC AH05288801 - KCSB 1107CU</span></div>
<div class="l" style="left:1329.10px;top:683.00px;font-size:16.15px;"><b style="color:#d90000">Courtmaster Sugar Ray</b><span style="color:#333"><span class="s"><svg viewBox="0 0 79 90"><g fill="none" stroke="#2a2a2a" stroke-width="7.4"><circle cx="38" cy="48" r="16.5"/><path d="M46.5 33L55 11"/><path d="M36 16.5L55.5 7.5L63 27" stroke-width="7"/></g></svg></span></span><span style="color:#145214;white-space:pre">  12 Mar 2010, KC AL01561601</span></div>
<div class="l" style="left:1329.10px;top:714.00px;font-size:16.15px;"><b style="color:#d90000">Courtmaster Hellszpoppin</b><span style="color:#333"><span class="s"><svg viewBox="0 0 79 90"><g fill="none" stroke="#2a2a2a" stroke-width="7.4"><circle cx="39" cy="32.5" r="16.6"/><path d="M39 49.5V71.5M29 60.5H49"/></g></svg></span></span><span style="color:#145214;white-space:pre">  07 Oct 2008, KC AJ05060402 - KCSB 4454CU</span></div>
<div class="l" style="left:1329.10px;top:745.00px;font-size:16.15px;"><b style="color:#333">Mistily's Breaka Way</b><span style="color:#333"><span class="s"><svg viewBox="0 0 79 90"><g fill="none" stroke="#2a2a2a" stroke-width="7.4"><circle cx="38" cy="48" r="16.5"/><path d="M46.5 33L55 11"/><path d="M36 16.5L55.5 7.5L63 27" stroke-width="7"/></g></svg></span></span><span style="color:#145214;white-space:pre"> 13 Aug 2003, S60634/2003 - NHSB 2682906</span></div>
<div class="l" style="left:1329.10px;top:775.00px;font-size:16.15px;"><b style="color:#333">My Decamerone Ballerina</b><span style="color:#333"><span class="s"><svg viewBox="0 0 79 90"><g fill="none" stroke="#2a2a2a" stroke-width="7.4"><circle cx="39" cy="32.5" r="16.6"/><path d="M39 49.5V71.5M29 60.5H49"/></g></svg></span></span><span style="color:#145214;white-space:pre"> UKU.004243/07</span></div>
<div class="l" style="left:1329.10px;top:806.00px;font-size:16.15px;"><b style="color:#333">Sorbrook Bucks Fizz</b><span style="color:#333"><span class="s"><svg viewBox="0 0 79 90"><g fill="none" stroke="#2a2a2a" stroke-width="7.4"><circle cx="38" cy="48" r="16.5"/><path d="M46.5 33L55 11"/><path d="M36 16.5L55.5 7.5L63 27" stroke-width="7"/></g></svg></span></span><span style="color:#145214;white-space:pre"> 06 Oct 1995, KC V5172601V04</span></div>
<div class="l" style="left:1329.10px;top:837.00px;font-size:16.15px;"><b style="color:#333">Terriles Thesee Of Fyawenydd</b><span style="color:#333"><span class="s"><svg viewBox="0 0 79 90"><g fill="none" stroke="#2a2a2a" stroke-width="7.4"><circle cx="39" cy="32.5" r="16.6"/><path d="M39 49.5V71.5M29 60.5H49"/></g></svg></span></span><span style="color:#145214;white-space:pre"> 23 Jul 2000, KC AA04948301</span></div>
<div class="l" style="left:1329.10px;top:868.00px;font-size:16.15px;"><b style="color:#d90000">Glowhill Scrumpy Jack</b><span style="color:#333"><span class="s"><svg viewBox="0 0 79 90"><g fill="none" stroke="#2a2a2a" stroke-width="7.4"><circle cx="38" cy="48" r="16.5"/><path d="M46.5 33L55 11"/><path d="M36 16.5L55.5 7.5L63 27" stroke-width="7"/></g></svg></span></span><span style="color:#145214;white-space:pre">  20 Apr 2001, KC AB01467202 - KCSB 3284CM</span></div>
<div class="l" style="left:1329.10px;top:899.00px;font-size:16.15px;"><b style="color:#333">Lindridge Saffron</b><span style="color:#333"><span class="s"><svg viewBox="0 0 79 90"><g fill="none" stroke="#2a2a2a" stroke-width="7.4"><circle cx="39" cy="32.5" r="16.6"/><path d="M39 49.5V71.5M29 60.5H49"/></g></svg></span></span><span style="color:#145214;white-space:pre"> 09 May 2001, KC AB03614803</span></div>
<div class="l" style="left:1329.10px;top:930.00px;font-size:16.15px;"><b style="color:#d90000">Cassom Hey Jude</b><span style="color:#333"><span class="s"><svg viewBox="0 0 79 90"><g fill="none" stroke="#2a2a2a" stroke-width="7.4"><circle cx="38" cy="48" r="16.5"/><path d="M46.5 33L55 11"/><path d="M36 16.5L55.5 7.5L63 27" stroke-width="7"/></g></svg></span></span><span style="color:#145214;white-space:pre">  13 Aug 2007, KC AH04122802 - KCSB 2889CT</span></div>
<div class="l" style="left:1329.10px;top:960.00px;font-size:16.15px;"><b style="color:#333">Lynwater Toffee Truffle</b><span style="color:#333"><span class="s"><svg viewBox="0 0 79 90"><g fill="none" stroke="#2a2a2a" stroke-width="7.4"><circle cx="39" cy="32.5" r="16.6"/><path d="M39 49.5V71.5M29 60.5H49"/></g></svg></span></span><span style="color:#145214;white-space:pre"> 24 Dec 2008, KC AK00556905</span></div>
<div class="l" style="left:1329.10px;top:991.00px;font-size:16.15px;"><b style="color:#d90000">Lindridge Moon Catcher</b><span style="color:#333"><span class="s"><svg viewBox="0 0 79 90"><g fill="none" stroke="#2a2a2a" stroke-width="7.4"><circle cx="38" cy="48" r="16.5"/><path d="M46.5 33L55 11"/><path d="M36 16.5L55.5 7.5L63 27" stroke-width="7"/></g></svg></span></span><span style="color:#145214;white-space:pre">  05 May 2004, KC AE03479603 - KCSB 1873CQ</span></div>
<div class="l" style="left:1329.10px;top:1022.00px;font-size:16.15px;"><b style="color:#333">Cassom Penelope Pitstop</b><span style="color:#333"><span class="s"><svg viewBox="0 0 79 90"><g fill="none" stroke="#2a2a2a" stroke-width="7.4"><circle cx="39" cy="32.5" r="16.6"/><path d="M39 49.5V71.5M29 60.5H49"/></g></svg></span></span><span style="color:#145214;white-space:pre"> 16 Apr 2007, KC AC02097101</span></div>
<div class="l" style="left:1329.10px;top:1053.00px;font-size:16.15px;"><b style="color:#d90000">Fools Alibaba</b><span style="color:#333"><span class="s"><svg viewBox="0 0 79 90"><g fill="none" stroke="#2a2a2a" stroke-width="7.4"><circle cx="38" cy="48" r="16.5"/><path d="M46.5 33L55 11"/><path d="M36 16.5L55.5 7.5L63 27" stroke-width="7"/></g></svg></span></span><span style="color:#145214;white-space:pre">  19 Sep 1989, SF31114/89</span></div>
<div class="l" style="left:1329.10px;top:1084.00px;font-size:16.15px;"><b style="color:#d90000">Blue Satin Forever A One</b><span style="color:#333"><span class="s"><svg viewBox="0 0 79 90"><g fill="none" stroke="#2a2a2a" stroke-width="7.4"><circle cx="39" cy="32.5" r="16.6"/><path d="M39 49.5V71.5M29 60.5H49"/></g></svg></span></span><span style="color:#145214;white-space:pre">  13 Mar 1998, N10219/98</span></div>
<div class="l" style="left:1329.10px;top:1115.00px;font-size:16.15px;"><b style="color:#d90000">Blickfang vom Schloß Hellenstein</b><span style="color:#333"><span class="s"><svg viewBox="0 0 79 90"><g fill="none" stroke="#2a2a2a" stroke-width="7.4"><circle cx="38" cy="48" r="16.5"/><path d="M46.5 33L55 11"/><path d="M36 16.5L55.5 7.5L63 27" stroke-width="7"/></g></svg></span></span><span style="color:#145214;white-space:pre">  13 Oct 2000, SpZB 1264/00</span></div>
<div class="l" style="left:1329.10px;top:1146.00px;font-size:16.15px;"><b style="color:#333">Na Also vom Schloß Hellenstein</b><span style="color:#333"><span class="s"><svg viewBox="0 0 79 90"><g fill="none" stroke="#2a2a2a" stroke-width="7.4"><circle cx="39" cy="32.5" r="16.6"/><path d="M39 49.5V71.5M29 60.5H49"/></g></svg></span></span><span style="color:#145214;white-space:pre"> 07 Apr 2002, SpZB 0447/02</span></div>
<div class="l" style="left:1329.10px;top:1176.00px;font-size:16.15px;"><b style="color:#d90000">Backhills I Like It</b><span style="color:#333"><span class="s"><svg viewBox="0 0 79 90"><g fill="none" stroke="#2a2a2a" stroke-width="7.4"><circle cx="38" cy="48" r="16.5"/><path d="M46.5 33L55 11"/><path d="M36 16.5L55.5 7.5L63 27" stroke-width="7"/></g></svg></span></span><span style="color:#145214;white-space:pre">  11 Nov 2002, S61019/2002 - ?LP/AC/31413/04</span></div>
<div class="l" style="left:1329.10px;top:1207.00px;font-size:16.15px;"><b style="color:#d90000">Very Blue Black Petrs</b><span style="color:#333"><span class="s"><svg viewBox="0 0 79 90"><g fill="none" stroke="#2a2a2a" stroke-width="7.4"><circle cx="39" cy="32.5" r="16.6"/><path d="M39 49.5V71.5M29 60.5H49"/></g></svg></span></span><span style="color:#145214;white-space:pre">  ?LP/AC/30873/04</span></div>
<div class="l" style="left:1329.10px;top:1238.00px;font-size:16.15px;"><b style="color:#333">Lourisma Versace</b><span style="color:#333"><span class="s"><svg viewBox="0 0 79 90"><g fill="none" stroke="#2a2a2a" stroke-width="7.4"><circle cx="38" cy="48" r="16.5"/><path d="M46.5 33L55 11"/><path d="M36 16.5L55.5 7.5L63 27" stroke-width="7"/></g></svg></span></span><span style="color:#145214;white-space:pre"> 04 Jan 2002, S48845/2003</span></div>
<div class="l" style="left:1329.10px;top:1269.00px;font-size:16.15px;"><b style="color:#333">Snoopy's Quirina</b><span style="color:#333"><span class="s"><svg viewBox="0 0 79 90"><g fill="none" stroke="#2a2a2a" stroke-width="7.4"><circle cx="39" cy="32.5" r="16.6"/><path d="M39 49.5V71.5M29 60.5H49"/></g></svg></span></span><span style="color:#145214;white-space:pre"> 10 Jul 2002, SpZB 0917/02</span></div>
<div class="l" style="left:50.20px;top:1301.00px;font-size:21.35px;"><b>Owner:</b></div>
<div class="l" style="left:50.20px;top:1327.00px;font-size:21.35px;">vom Erfurter Kakteenhof, Erfurt Thüringen Germany</div>
<div class="l" style="left:50.20px;top:1353.00px;font-size:21.35px;"><b>Breeder:</b></div>
<div class="l" style="left:50.20px;top:1379.00px;font-size:21.35px;">vom Nikolausberg, Sonja &amp; Maik Blume, Lutterhäuser Str. 5 37181 Hardegsen Deutschland Germany</div>
<div class="l" style="left:0.00px;top:1369.00px;font-size:16.62px;width:2000px;text-align:center;color:#333">07 Nov 2025 - Cocker Spaniel Pedigree Database Online does not accept liability for any errors or omissions in the information.</div>
</div></body></html>
